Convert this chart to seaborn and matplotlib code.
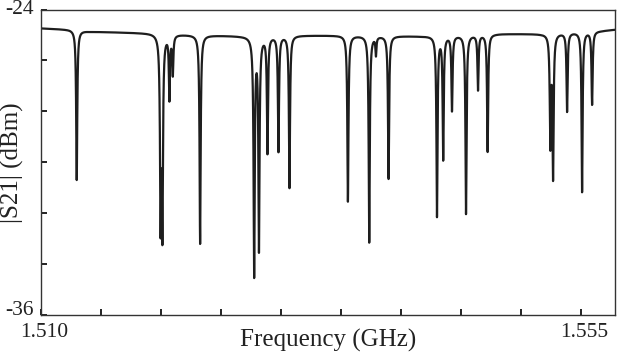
import numpy as np
import pandas as pd
import matplotlib
matplotlib.use("Agg")
import matplotlib.pyplot as plt
from matplotlib.transforms import ScaledTranslation
import seaborn as sns

# ---- data ----
# resonance centres (GHz), minimum |S21| (dBm) and half widths (MHz)
dip_freq_ghz = [1.512975, 1.519958, 1.520108, 1.520692, 1.520975, 1.523250,
                1.527750, 1.528150, 1.528858, 1.529775, 1.530692, 1.535558,
                1.537333, 1.537892, 1.538942, 1.542975, 1.543492, 1.544225,
                1.545392, 1.546392, 1.547192, 1.552417, 1.552642, 1.553808,
                1.555058, 1.555892]
dip_min_dbm = [-30.70, -32.98, -33.25, -27.62, -26.64, -33.21,
               -34.55, -33.56, -29.69, -29.61, -31.02, -31.55,
               -33.16, -25.85, -30.66, -32.16, -29.94, -28.01,
               -32.04, -27.19, -29.60, -29.55, -30.74, -28.03,
               -31.18, -27.75]
dip_halfwidth_mhz = [0.075, 0.085, 0.085, 0.06, 0.06, 0.085,
                     0.095, 0.09, 0.07, 0.07, 0.075, 0.08,
                     0.085, 0.05, 0.075, 0.08, 0.07, 0.065,
                     0.08, 0.06, 0.07, 0.075, 0.075, 0.065,
                     0.075, 0.065]
# off-resonance background level
base_freq_ghz = [1.5100, 1.5124, 1.5141, 1.5191, 1.5233, 1.5266,
                 1.5316, 1.5349, 1.5416, 1.5483, 1.5516, 1.5566, 1.5578]
base_dbm = [-24.74, -24.79, -24.87, -24.93, -25.01, -25.04,
            -25.02, -25.02, -25.05, -24.96, -24.96, -24.84, -24.79]

x_ticks = [1.510, 1.515, 1.520, 1.525, 1.530, 1.535, 1.540, 1.545, 1.550, 1.555]
x_tick_labels = ["1.510", "", "", "", "", "", "", "", "", "1.555"]
y_ticks = [-24, -26, -28, -30, -32, -34, -36]
y_tick_labels = ["-24", "", "", "", "", "", "-36"]

# ---- build the trace from the resonance parameters ----
f0 = np.array(dip_freq_ghz)
hw = np.array(dip_halfwidth_mhz) / 1000.0
freq = np.sort(np.concatenate([np.linspace(1.5100, 1.5578, 30000), f0]))
base = np.interp(freq, base_freq_ghz, base_dbm)
depth = np.interp(f0, base_freq_ghz, base_dbm) - np.array(dip_min_dbm)
target = 10 ** (-depth / 10)


def lor(f, c, w):
    return 1.0 / (1.0 + ((f - c) / w) ** 2)


# solve each resonance's own depth so overlapping dips hit the read minima
m = target.copy()
n = len(f0)
for _ in range(60):
    for i in range(n):
        others = 1.0
        for j in range(n):
            if j != i:
                others *= 1 - (1 - m[j]) * lor(f0[i], f0[j], hw[j])
        m[i] = np.clip(target[i] / others, 1e-5, 1.0)

T = np.ones_like(freq)
for c, w, mm in zip(f0, hw, m):
    T *= 1 - (1 - mm) * lor(freq, c, w)
s21 = base + 10 * np.log10(T)
df = pd.DataFrame({"Frequency (GHz)": freq, "|S21| (dBm)": s21})

# ---- plot ----
sns.set_theme(style="ticks")
plt.rcParams["font.family"] = ["Liberation Serif", "DejaVu Serif"]

fig = plt.figure(figsize=(6.17, 3.54), dpi=100)
ax = fig.add_axes([41 / 617, 39 / 354, 574 / 617, 305.5 / 354])
sns.lineplot(data=df, x="Frequency (GHz)", y="|S21| (dBm)", ax=ax,
             color="#1e1e1e", linewidth=1.6, estimator=None, sort=False)

ax.set_xlim(1.5100, 1.5578)
ax.set_ylim(-36, -24)
ax.set_xticks(x_ticks)
ax.set_xticklabels(x_tick_labels)
ax.set_yticks(y_ticks)
ax.set_yticklabels(y_tick_labels)
ax.tick_params(direction="in", length=4.5, width=1.4, color="#222222",
               labelsize=15.5, labelcolor="#222222")
ax.tick_params(axis="x", pad=6)
ax.tick_params(axis="y", pad=5)
for s in ax.spines.values():
    s.set_color("#333333")
    s.set_linewidth(1.0)

# nudge the end labels like the reference
ylabels = ax.get_yticklabels()
ylabels[0].set_transform(ylabels[0].get_transform() +
                         ScaledTranslation(0, 2 / 100, fig.dpi_scale_trans))
ylabels[-1].set_verticalalignment("baseline")
xlabels = ax.get_xticklabels()
for t in (xlabels[0], xlabels[-1]):
    t.set_transform(t.get_transform() +
                    ScaledTranslation(3 / 100, 0, fig.dpi_scale_trans))

ax.set_xlabel("Frequency (GHz)", fontsize=18, color="#222222")
ax.set_ylabel("|S21| (dBm)", fontsize=18, color="#222222")
ax.xaxis.set_label_coords(0.5, -0.1038)
ax.xaxis.label.set_verticalalignment("baseline")
ax.yaxis.set_label_coords(-0.0497, 0.5)
ax.yaxis.label.set_verticalalignment("center")

fig.savefig("out.png", dpi=100)
